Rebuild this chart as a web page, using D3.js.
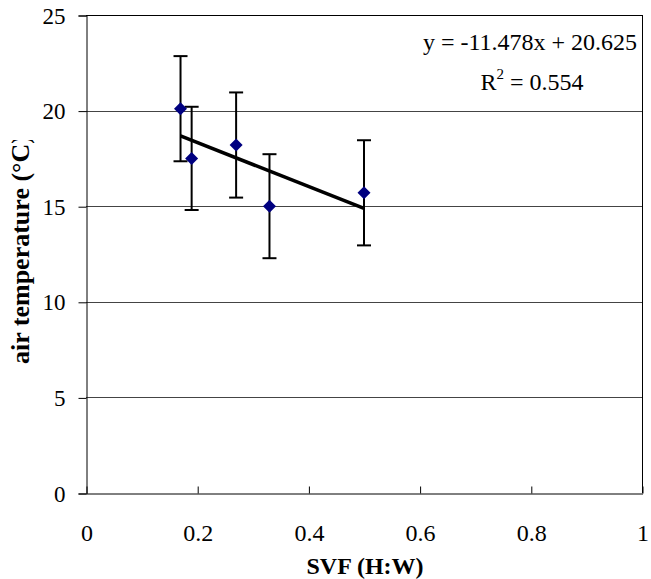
<!DOCTYPE html>
<html>
<head>
<meta charset="utf-8">
<script src="https://cdn.jsdelivr.net/npm/d3@7"></script>
<style>
  html, body { margin: 0; padding: 0; background: #fff; }
  svg { display: block; }
</style>
</head>
<body>
<svg id="chart" width="651" height="579"></svg>
<script>
// ---- data ----
const svf = [0.17, 0.19, 0.27, 0.33, 0.50];
const airTemp = [20.1, 17.5, 18.2, 15.0, 15.7];
const errorAmount = [2.75, 2.7, 2.75, 2.72, 2.75];
const trendSlope = -11.478;
const trendIntercept = 20.625;
const rSquared = 0.554;
const xTicks = [0, 0.2, 0.4, 0.6, 0.8, 1];
const yTicks = [0, 5, 10, 15, 20, 25];
const xTitle = "SVF (H:W)";
const yTitle = "air temperature (°C)";

// ---- layout ----
const FONT = "'Liberation Serif', 'Times New Roman', Times, serif";
const svg = d3.select("#chart");
const mLeft = 86, mRight = 642, mTop = 15, mBottom = 493;

const x = d3.scaleLinear().domain([0, 1]).range([mLeft, mRight]);
const y = d3.scaleLinear().domain([0, 25]).range([mBottom, mTop]);

// gridlines
svg.append("g").selectAll("line")
  .data(yTicks.filter(d => d > 0 && d < 25))
  .join("line")
  .attr("x1", mLeft).attr("x2", mRight)
  .attr("y1", d => Math.round(y(d)) + 0.5).attr("y2", d => Math.round(y(d)) + 0.5)
  .attr("stroke", "#444").attr("stroke-width", 1);

// plot border top/right
svg.append("line").attr("x1", mLeft).attr("x2", mRight + 0.5)
  .attr("y1", mTop + 0.5).attr("y2", mTop + 0.5).attr("stroke", "#000");
svg.append("line").attr("x1", mRight + 0.5).attr("x2", mRight + 0.5)
  .attr("y1", mTop).attr("y2", mBottom).attr("stroke", "#000");

// y axis
const yAxis = d3.axisLeft(y).tickValues(yTicks).tickFormat(d3.format("d"))
  .tickSize(8).tickPadding(12);
const gy = svg.append("g").attr("transform", `translate(${mLeft + 0.5},0.5)`).call(yAxis);
gy.attr("font-family", null).attr("font-size", null);
gy.selectAll("text")
  .attr("x", -21).attr("dy", "0.33em")
  .style("font-family", FONT).style("font-size", "23px").style("fill", "#000");
gy.select(".domain").attr("stroke", "#000");
gy.selectAll(".tick line").attr("stroke", "#000");

// x axis (ticks inward)
const xAxis = d3.axisBottom(x).tickValues(xTicks)
  .tickFormat(d => d === 0 || d === 1 ? d3.format("d")(d) : d3.format(".1f")(d))
  .tickSizeInner(-7).tickSizeOuter(0);
const gx = svg.append("g").attr("transform", `translate(0.5,${mBottom + 0.5})`).call(xAxis);
gx.attr("font-family", null).attr("font-size", null);
gx.selectAll("text")
  .attr("y", 47).attr("dy", null)
  .style("font-family", FONT).style("font-size", "24px").style("fill", "#000");
gx.select(".domain").attr("stroke", "#000");
gx.selectAll(".tick line").attr("stroke", "#000");

// axis titles
svg.append("text")
  .attr("x", 365).attr("y", 574)
  .attr("text-anchor", "middle")
  .style("font-family", FONT).style("font-size", "24px").style("font-weight", "bold")
  .text(xTitle);

svg.append("defs").append("clipPath").attr("id", "ylabClip")
  .append("rect").attr("x", 0).attr("y", 140).attr("width", 60).attr("height", 400);
svg.append("g").attr("clip-path", "url(#ylabClip)")
  .append("text")
  .attr("transform", "translate(29,364) rotate(-90)")
  .attr("text-anchor", "start")
  .style("font-family", FONT).style("font-size", "26px").style("font-weight", "bold")
  .text(yTitle);

// trendline
const xMin = d3.min(svf), xMax = d3.max(svf);
svg.append("line")
  .attr("x1", x(xMin)).attr("y1", y(trendSlope * xMin + trendIntercept))
  .attr("x2", x(xMax)).attr("y2", y(trendSlope * xMax + trendIntercept))
  .attr("stroke", "#000").attr("stroke-width", 3.5);

// error bars
const pts = svf.map((v, i) => ({ x: v, y: airTemp[i], e: errorAmount[i] }));
const eb = svg.append("g").attr("stroke", "#000").attr("stroke-width", 2);
eb.selectAll(".v").data(pts).join("line")
  .attr("x1", d => x(d.x)).attr("x2", d => x(d.x))
  .attr("y1", d => y(d.y + d.e)).attr("y2", d => y(d.y - d.e));
eb.selectAll(".t").data(pts).join("line")
  .attr("x1", d => x(d.x) - 7).attr("x2", d => x(d.x) + 7)
  .attr("y1", d => y(d.y + d.e)).attr("y2", d => y(d.y + d.e));
eb.selectAll(".b").data(pts).join("line")
  .attr("x1", d => x(d.x) - 7).attr("x2", d => x(d.x) + 7)
  .attr("y1", d => y(d.y - d.e)).attr("y2", d => y(d.y - d.e));

// markers
svg.append("g").selectAll("path").data(pts).join("path")
  .attr("transform", d => `translate(${x(d.x)},${y(d.y)})`)
  .attr("d", "M0,-6.5L6.5,0L0,6.5L-6.5,0Z")
  .attr("fill", "#000080");

// equation
svg.append("text").attr("x", 530).attr("y", 50).attr("text-anchor", "middle")
  .style("font-family", FONT).style("font-size", "24px")
  .text(`y = ${trendSlope}x + ${trendIntercept}`);
const r2 = svg.append("text").attr("x", 532).attr("y", 90).attr("text-anchor", "middle")
  .style("font-family", FONT).style("font-size", "24px");
r2.append("tspan").text("R");
r2.append("tspan").attr("dy", "-11").style("font-size", "15px").text("2");
r2.append("tspan").attr("dy", "11").text(` = ${rSquared}`);
</script>
</body>
</html>
